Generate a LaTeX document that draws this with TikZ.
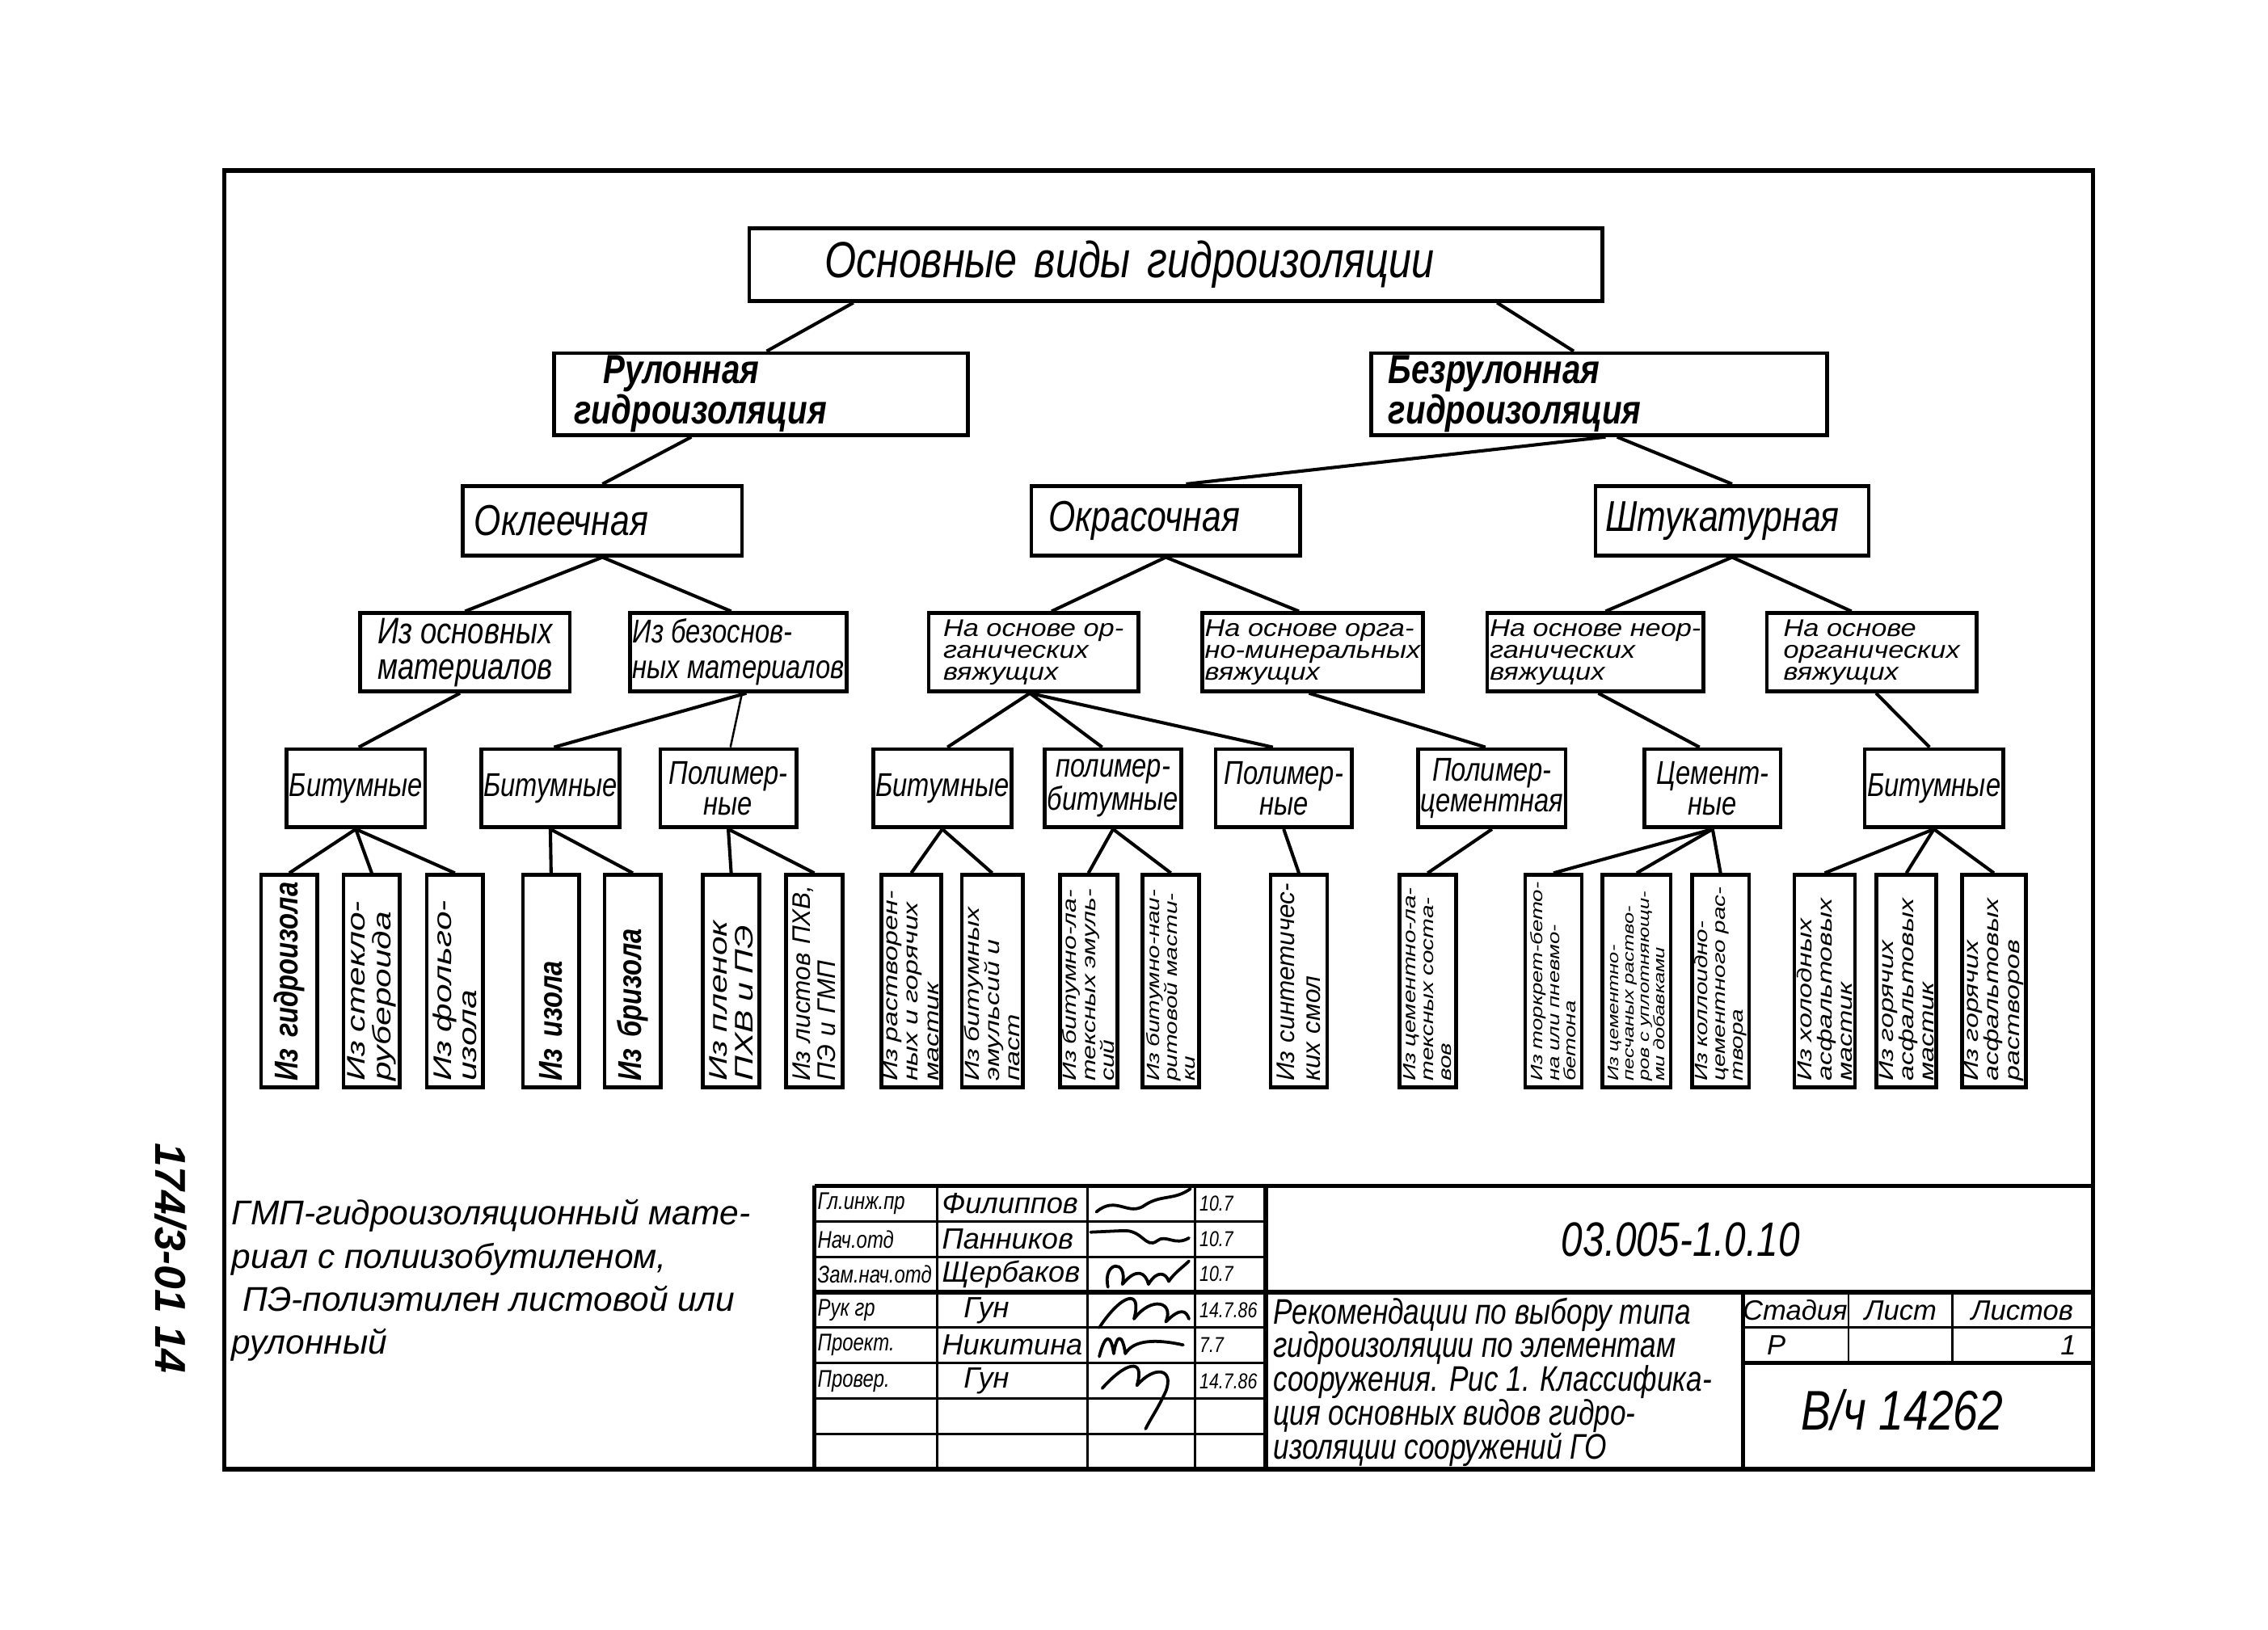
\documentclass[tikz,border=0pt]{standalone}
\usepackage{fontspec}
\newfontfamily\gost{Liberation Sans}[FakeStretch=0.8]
\newfontfamily\gostm{Liberation Sans}
\newfontfamily\gostl{Liberation Sans}[FakeStretch=1.15]
\newfontfamily\gostw{Liberation Sans}[FakeStretch=1.35]
\newcommand\setfs[2]{\fontsize{#1}{#2}\selectfont}

\begin{document}
\begin{tikzpicture}
[x=0.2mm, y=-0.2mm,
  boxDecorate/.style={draw, line width=1.5pt, inner sep=1pt, font=\gost\itshape},%
  levelFour/.style={boxDecorate, minimum width=29mm, minimum height=10.8mm, align=left},%
  levelFive/.style={boxDecorate, minimum width=18.8mm, minimum height=10.8mm, align=center, font=\gost\itshape\setfs{13}{12}},%
  leafDecorate/.style={boxDecorate, rotate=90, minimum width=29.4mm, text width=27.6mm, align=left},%
  lineDecorate/.style={-, line width=1.3pt},%
  thinDecorate/.style={-, line width=0.8pt},%
  frameDecorate/.style={line width=1.8pt},%
  cellDecorate/.style={line width=0.9pt},%
  signDecorate/.style={line width=1.2pt, line cap=round, line join=round},%
  cellText/.style={anchor=west, inner sep=0pt}]
\useasboundingbox (0,0) rectangle (1568,1127);

%% sheet frame and title block
\draw[frameDecorate] (155,118) rectangle (1447,1016);
\draw[frameDecorate] (563,820) -- (1447,820);
\draw[frameDecorate] (563,820) -- (563,1016);
\draw[frameDecorate] (875,820) -- (875,1016);
\draw[frameDecorate] (563,893.5) -- (1447,893.5);
\foreach \x in {648,752,826}
{
  \draw[cellDecorate] (\x,820) -- (\x,1016);
}
\foreach \y in {844.5,869,918,942.5,967,991.5}
{
  \draw[cellDecorate] (563,\y) -- (875,\y);
}
\draw[frameDecorate] (1205,893.5) -- (1205,1016);
\draw[cellDecorate] (1205,918) -- (1447,918);
\draw[frameDecorate] (1205,942.5) -- (1447,942.5);
\draw[cellDecorate] (1278,893.5) -- (1278,942.5);
\draw[cellDecorate] (1350,893.5) -- (1350,942.5);

%% nodes or vertices
\node (title) at (813,183) [boxDecorate, minimum width=118mm, minimum height=10mm, text width=97.2mm, align=left, font=\gost\itshape\setfs{20}{22}] {Основные~виды~гидроизоляции};

\node (rul) at (526,272.5) [boxDecorate, minimum width=57.2mm, minimum height=9.4mm, text width=51.6mm, align=left, font=\gost\bfseries\itshape\setfs{16}{13}] {\hspace*{4mm}Рулонная\\гидроизоляция};
\node (bezrul) at (1105.5,272.5) [boxDecorate, minimum width=63mm, minimum height=9.8mm, text width=58.2mm, align=left, font=\gost\bfseries\itshape\setfs{16}{13}] {Безрулонная\\гидроизоляция};

\node (okl) at (416.5,360) [boxDecorate, minimum width=38.6mm, minimum height=9.6mm, text width=35.4mm, align=left, font=\gost\itshape\setfs{17}{18}] {Оклеечная};
\node (okr) at (806,360) [boxDecorate, minimum width=37.2mm, minimum height=9.6mm, text width=32.4mm, align=left, font=\gost\itshape\setfs{17}{18}] {Окрасочная};
\node (shtuk) at (1197.5,360) [boxDecorate, minimum width=37.8mm, minimum height=9.6mm, text width=35mm, align=left, font=\gost\itshape\setfs{17}{18}] {Штукатурная};

\node (osn) at (321.5,451) [levelFour, font=\gost\itshape\setfs{14.5}{14}] {Из основных\\материалов};
\node (bezosn) at (510.5,451) [levelFour, font=\gost\itshape\setfs{13}{14}] {Из безоснов-\\ных материалов};
\node (orgM) at (714.5,451) [levelFour, font=\gostl\itshape\setfs{9.5}{8.6}] {На основе ор-\\ганических\\вяжущих};
\node (orgmin) at (907.5,451) [levelFour, font=\gostl\itshape\setfs{9.5}{8.6}] {На основе орга-\\но-минеральных\\вяжущих};
\node (neorg) at (1103,451) [levelFour, font=\gostl\itshape\setfs{9.5}{8.6}] {На основе неор-\\ганических\\вяжущих};
\node (orgR) at (1294,451) [levelFour, font=\gostl\itshape\setfs{9.5}{8.6}] {На основе\\органических\\вяжущих};

\foreach \nodename/\x/\txt in {bitA/246/{Битумные}, bitB/380.5/{Битумные}, polA/503.5/{Полимер-\\ные},
  bitC/651.5/{Битумные}, polbit/769.5/{полимер-\\битумные}, polB/887.5/{Полимер-\\ные},
  polcem/1031.5/{Полимер-\\цементная}, cem/1184/{Цемент-\\ные}, bitD/1337/{Битумные}}
{
  \node (\nodename) at (\x,545) [levelFive] {\txt};
}

\foreach \nodename/\x/\thick/\face/\fsz/\txt in {
  lfA/200/7.8/{\gost\bfseries}/13/{Из~гидроизола},
  lfB/257/7.8/\gostw/10/{Из~стекло-\\рубероида},
  lfC/314.5/7.8/\gostw/10/{Из~фольго-\\изола},
  lfD/381/7.8/{\gost\bfseries}/13/{Из~изола},
  lfE/437.5/7.8/{\gost\bfseries}/13/{Из~бризола},
  lfF/505.5/7.8/\gostw/10/{Из~пленок\\ПХВ~и~ПЭ},
  lfG/563/7.8/\gostm/10/{Из~листов~ПХВ,\\ПЭ~и~ГМП},
  lfH/630/7.8/\gostw/8/{Из~растворен-\\ных~и~горячих\\мастик},
  lfI/686/7.8/\gostw/8/{Из~битумных\\эмульсий~и\\паст},
  lfJ/752.5/7.8/\gostw/7.5/{Из~битумно-ла-\\тексных~эмуль-\\сий},
  lfK/809.5/7.8/\gostw/7/{Из~битумно-наи-\\ритовой~масти-\\ки},
  lfL/898/7.8/\gostm/10/{Из~синтетичес-\\ких~смол},
  lfM/987/7.8/\gostw/7/{Из~цементно-ла-\\тексных~соста-\\вов},
  lfN/1074/7.8/\gostw/6.5/{Из~торкрет-бето-\\на~или~пневмо-\\бетона},
  lfO/1131.5/9.4/\gostw/6/{Из~цементно-\\песчаных~раство-\\ров~с~уплотняющи-\\ми~добавками},
  lfP/1189.5/7.8/\gostw/7/{Из~коллоидно-\\цементного~рас-\\твора},
  lfQ/1261.5/7.8/\gostw/8/{Из~холодных\\асфальтовых\\мастик},
  lfR/1318/7.8/\gostw/8/{Из~горячих\\асфальтовых\\мастик},
  lfS/1378.5/7.8/\gostw/8/{Из~горячих\\асфальтовых\\растворов}}
{
  \node (\nodename) at (\x,678.5) [leafDecorate, minimum height=\thick mm, font=\face\itshape\setfs{\fsz}{\fsz}] {\txt};
}

%% edges or lines
\foreach \startnode/\sa/\endnode/\sb in {title/-44.6/rul/0.8, title/44.4/bezrul/-3.5,
  rul/-9.6/okl/0, bezrul/0.9/okr/2.8, bezrul/2.5/shtuk/0,
  okl/0/osn/0, okl/0/bezosn/-1, okr/0/orgM/2.5, okr/0/orgmin/-1.9,
  shtuk/0/neorg/1.4, shtuk/0/orgR/-2.8,
  osn/-0.7/bitA/0.4, bezosn/1.1/bitB/0.5, orgM/-0.5/bitC/0.7, orgM/-0.5/polbit/-1.5,
  orgM/-0.5/polB/-1.5, orgmin/-0.5/polcem/-0.9, neorg/0.4/cem/-1.8, orgR/0.6/bitD/-0.6}
{
  \draw[lineDecorate] ([xshift=\sa mm]\startnode.south) -- ([xshift=\sb mm]\endnode.north);
}
\draw[thinDecorate] ([xshift=0.5mm]bezosn.south) -- ([xshift=0.3mm]polA.north);
\path
\foreach \startnode/\endnode in {bitA/lfA, bitA/lfB, bitA/lfC, bitB/lfD, bitB/lfE, polA/lfF, polA/lfG,
  bitC/lfH, bitC/lfI, polbit/lfJ, polbit/lfK, polB/lfL, polcem/lfM,
  cem/lfN, cem/lfO, cem/lfP, bitD/lfQ, bitD/lfR, bitD/lfS}
{
  (\startnode.south) edge[lineDecorate] (\endnode.east)
};

%% notes
\node (margin) at (118,870) [rotate=-90, font=\gostm\bfseries\itshape\setfs{17}{18}] {174/3-01 14};
\node (note) at (160,829) [anchor=north west, align=left, inner sep=0pt, font=\gostm\itshape\setfs{13.5}{17}] {ГМП-гидроизоляционный мате-\\риал с полиизобутиленом,\\\hspace*{1.5mm}ПЭ-полиэтилен листовой или\\рулонный};

%% title block texts
\foreach \r/\y/\post/\who/\day in {1/832/Гл.инж.пр/Филиппов/10.7, 2/857/Нач.отд/Панников/10.7,
  3/881/Зам.нач.отд/Щербаков/10.7, 4/906/Рук гр/\hspace*{3mm}Гун/14.7.86,
  5/930/Проект./Никитина/7.7, 6/955/Провер./\hspace*{3mm}Гун/14.7.86}
{
  \node (post\r) at (565,\y) [cellText, font=\gost\itshape\setfs{9.5}{11}] {\post};
  \node (who\r) at (651,\y) [cellText, font=\gostm\itshape\setfs{11.5}{12}] {\who};
  \node (day\r) at (829,\y) [cellText, font=\gost\itshape\setfs{8.5}{9}] {\day};
}
\draw[signDecorate] (758,838) .. controls (772,826) and (780,842) .. (792,833) .. controls (803,826) and (812,830) .. (823,822);
\draw[signDecorate] (754,852) -- (776,851) .. controls (790,850) and (792,864) .. (800,858) .. controls (806,853) and (812,862) .. (822,856);
\draw[signDecorate] (766,890) .. controls (762,872) and (780,870) .. (776,888) .. controls (786,876) and (792,880) .. (794,888) .. controls (800,878) and (806,880) .. (808,886) .. controls (812,880) and (818,876) .. (822,872);
\draw[signDecorate] (760,918) .. controls (775,895) and (790,890) .. (784,912) .. controls (796,896) and (812,900) .. (806,914) .. controls (816,904) and (820,906) .. (822,912);
\draw[signDecorate] (760,938) .. controls (764,922) and (768,922) .. (770,936) .. controls (772,922) and (776,922) .. (778,936) .. controls (784,926) and (800,926) .. (818,930);
\draw[signDecorate] (762,960) .. controls (778,942) and (792,938) .. (786,958) .. controls (798,944) and (812,946) .. (806,962) .. controls (800,975) and (796,980) .. (792,988);

\node (code) at (1162,857) [font=\gost\itshape\setfs{19}{20}] {03.005-1.0.10};
\node (desc) at (880,897) [anchor=north west, align=left, inner sep=0pt, font={\gost\itshape\setfs{14}{13.3}\lineskiplimit=-5pt}] {Рекомендации по выбору типа\\гидроизоляции по элементам\\сооружения. Рис 1. Классифика-\\ция основных видов гидро-\\изоляции сооружений ГО};
\node (stage) at (1241,906) [font=\gostm\itshape\setfs{11}{12}] {Стадия};
\node (sheet) at (1314,906) [font=\gostm\itshape\setfs{11}{12}] {Лист};
\node (sheets) at (1398,906) [font=\gostm\itshape\setfs{11}{12}] {Листов};
\node (stageVal) at (1228,930) [font=\gostm\itshape\setfs{11}{12}] {Р};
\node (sheetsVal) at (1430,930) [font=\gostm\itshape\setfs{11}{12}] {1};
\node (unit) at (1315,975) [font=\gost\itshape\setfs{22}{24}] {В/ч 14262};
\end{tikzpicture}
\end{document}
